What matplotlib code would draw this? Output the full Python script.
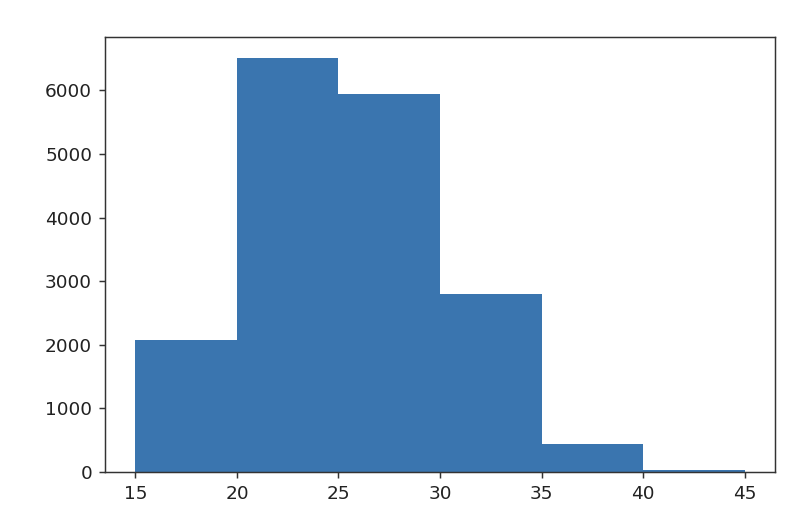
import matplotlib
matplotlib.use("Agg")
import matplotlib.pyplot as plt

bin_edges = [15, 20, 25, 30, 35, 40, 45]
counts = [2075, 6515, 5950, 2800, 440, 25]

W, H = 798, 522
dpi = 133
fig = plt.figure(figsize=(W / dpi, H / dpi), dpi=dpi)
ax = fig.add_axes([105 / W, (522 - 472) / H, (775 - 105) / W, (472 - 37) / H])

ax.hist(bin_edges[:-1], bins=bin_edges, weights=counts, color="#3a75af")
ax.set_xticks([15, 20, 25, 30, 35, 40, 45])
ax.set_yticks([0, 1000, 2000, 3000, 4000, 5000, 6000])
for s in ax.spines.values():
    s.set_color("#333333")
ax.tick_params(colors="#333333", labelcolor="#222222", labelsize=10)

fig.savefig("out.png", dpi=dpi)
